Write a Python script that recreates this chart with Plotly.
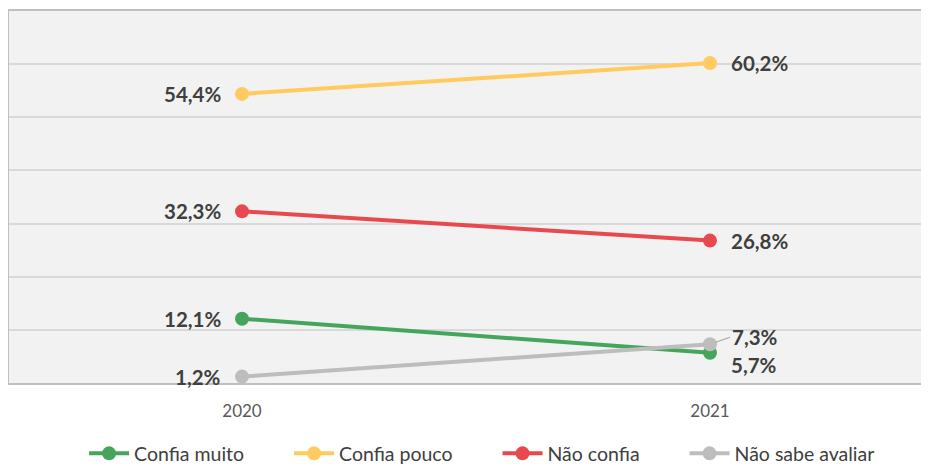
import plotly.graph_objects as go

years = ["2020", "2021"]
series_names = ["Confia muito", "Confia pouco", "Não confia", "Não sabe avaliar"]
confia_muito = [12.1, 5.7]
confia_pouco = [54.4, 60.2]
nao_confia = [32.3, 26.8]
nao_sabe = [1.2, 7.3]
colors = ["#45a55c", "#ffca5f", "#e8494f", "#bdbdbd"]

values = [confia_muito, confia_pouco, nao_confia, nao_sabe]
PAD = "\u00a0" * 8


def fmt(v):
    return f"{v:.1f}%".replace(".", ",")


fig = go.Figure()
for name, vals, col in zip(series_names, values, colors):
    fig.add_trace(go.Scatter(
        x=years, y=vals, name=name + PAD, mode="lines+markers",
        line=dict(color=col, width=4),
        marker=dict(color=col, size=14),
        hoverinfo="skip",
    ))

label_font = dict(family="Lato", size=20.5, color="#3f3f3f")
annotations = []
for name, vals, col in zip(series_names, values, colors):
    # 2020 labels on the left (category index 0)
    annotations.append(dict(x=0, y=vals[0], xref="x", yref="y",
                            text="<b>%s</b>" % fmt(vals[0]),
                            showarrow=False, xanchor="right", yanchor="middle",
                            xshift=-19, font=label_font))
    # 2021 labels on the right (category index 1)
    if name == "Não sabe avaliar":
        annotations.append(dict(x=1, y=vals[1], xref="x", yref="y",
                                text="<b>%s</b>" % fmt(vals[1]),
                                showarrow=True, arrowhead=0, arrowwidth=1.2,
                                arrowcolor="#a6a6a6", ax=20, ay=-7,
                                xanchor="left", yanchor="middle", standoff=6,
                                font=label_font))
    elif name == "Confia muito":
        annotations.append(dict(x=1, y=vals[1], xref="x", yref="y",
                                text="<b>%s</b>" % fmt(vals[1]),
                                showarrow=False, xanchor="left", yanchor="middle",
                                xshift=19, yshift=-12, font=label_font))
    else:
        annotations.append(dict(x=1, y=vals[1], xref="x", yref="y",
                                text="<b>%s</b>" % fmt(vals[1]),
                                showarrow=False, xanchor="left", yanchor="middle",
                                xshift=19, font=label_font))

fig.update_layout(
    width=921, height=456,
    margin=dict(l=1, r=0, t=3, b=81, autoexpand=False),
    paper_bgcolor="white",
    plot_bgcolor="#f2f2f2",
    showlegend=True,
    legend=dict(orientation="h", x=0.0816, xanchor="left", y=-0.19, yanchor="middle",
                font=dict(family="Lato", size=19.5, color="#404040"),
                itemwidth=40, tracegroupgap=0, bgcolor="rgba(0,0,0,0)"),
    xaxis=dict(type="category", range=[-0.4979, 1.468], showgrid=False,
               showline=True, linecolor="#bfbfbf", linewidth=2, mirror=True,
               ticks="", ticklabelstandoff=12,
               tickfont=dict(family="Lato", size=17, color="#595959")),
    yaxis=dict(range=[0, 70], dtick=10, showgrid=True, gridcolor="#d9d9d9", gridwidth=1.5,
               showticklabels=False, zeroline=False,
               showline=True, linecolor="#bfbfbf", linewidth=2),
    annotations=annotations,
)

fig.write_html("out.html")
